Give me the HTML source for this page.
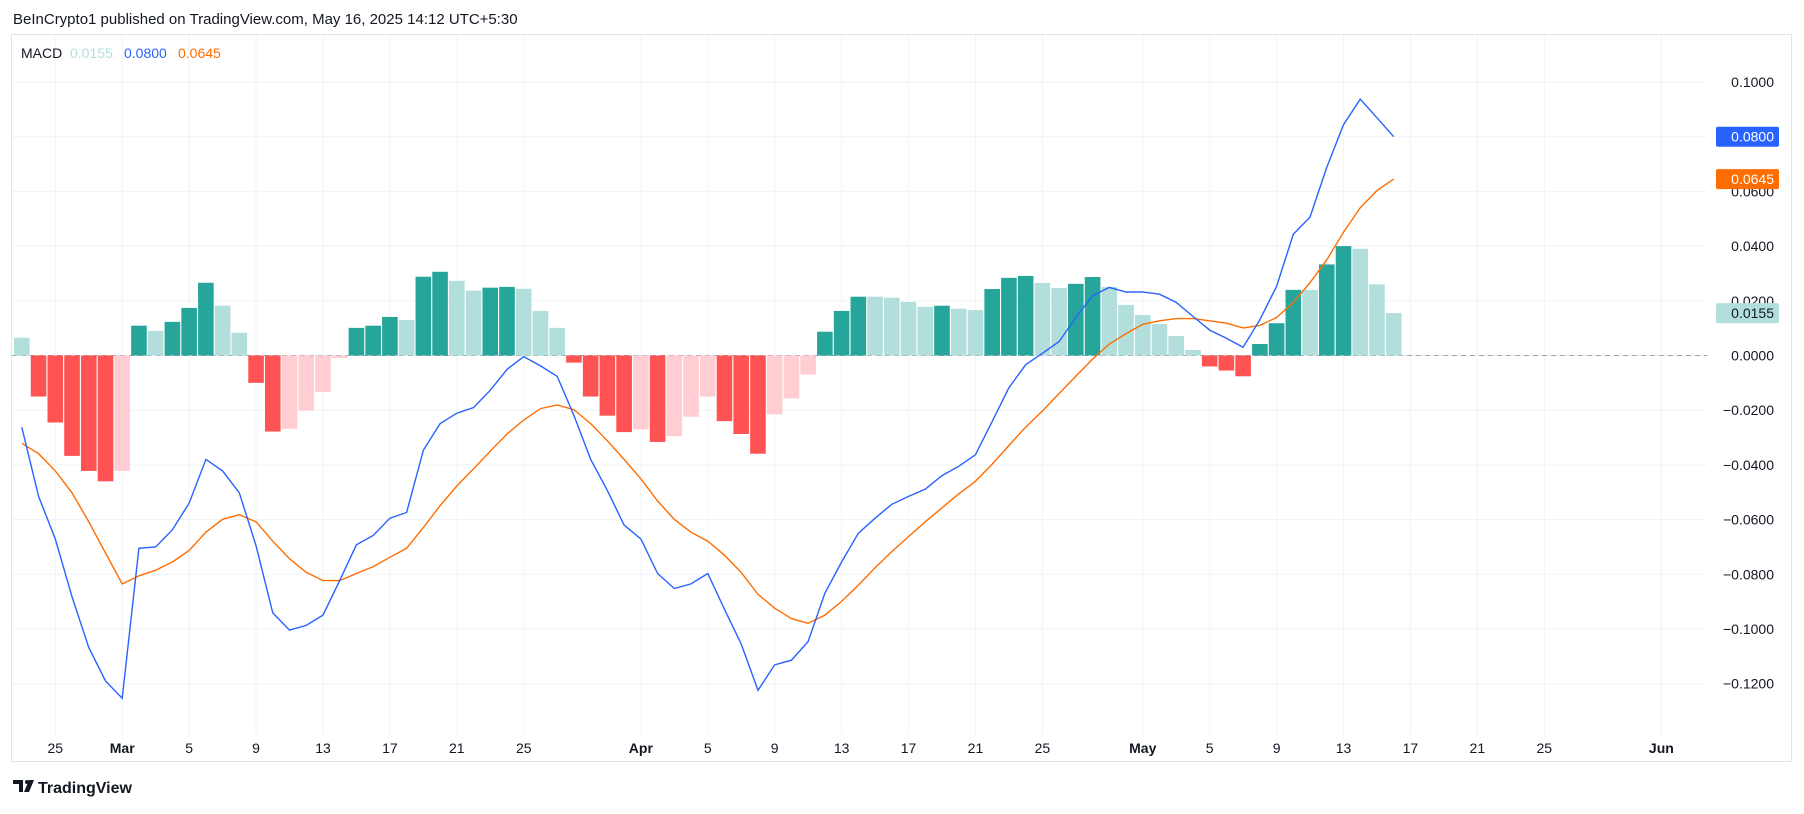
<!DOCTYPE html>
<html><head><meta charset="utf-8"><style>
body{margin:0;background:#fff;font-family:"Liberation Sans",sans-serif;}
svg text{font-family:"Liberation Sans",sans-serif;}
</style></head><body>
<svg id="c" width="1804" height="809" xmlns="http://www.w3.org/2000/svg">
<rect width="1804" height="809" fill="#fff"/>
<text x="13" y="24" font-size="15" fill="#131722">BeInCrypto1 published on TradingView.com, May 16, 2025 14:12 UTC+5:30</text>
<rect x="11.5" y="34.5" width="1780" height="727" fill="none" stroke="#e0e3eb"/>
<g id="grid"></g>
<g id="bars"></g>
<g id="lines"></g>
<g id="axes"></g>
<g>
<text x="21" y="58" font-size="14" fill="#131722">MACD</text>
<text x="70" y="58" font-size="14" fill="#b2dfdb">0.0155</text>
<text x="124" y="58" font-size="14" fill="#2962ff">0.0800</text>
<text x="178" y="58" font-size="14" fill="#ff6d00">0.0645</text>
</g>
<g>
<path d="M13 780h10v12h-4v-8h-6z M24 792l5-12h5l-5 12z" fill="#131722"/>
<circle cx="27" cy="782" r="2" fill="#131722"/>
<text x="38" y="793" font-size="16" font-weight="bold" fill="#131722">TradingView</text>
</g>
</svg>
<script>
const hist=[0.0065,-0.015,-0.0245,-0.0367,-0.0422,-0.046,-0.0422,0.0109,0.009,0.0123,0.0174,0.0266,0.0182,0.0083,-0.010,-0.0278,-0.0268,-0.0202,-0.0133,-0.0009,0.0101,0.0109,0.0141,0.013,0.0288,0.0306,0.0273,0.0237,0.0248,0.0251,0.0244,0.0163,0.0101,-0.0026,-0.015,-0.022,-0.028,-0.027,-0.0316,-0.0295,-0.0224,-0.015,-0.024,-0.0287,-0.0359,-0.0215,-0.0157,-0.007,0.0087,0.0163,0.0215,0.0215,0.0211,0.0196,0.0178,0.0182,0.0171,0.0166,0.0243,0.0284,0.0291,0.0265,0.0247,0.0262,0.0287,0.0251,0.0185,0.0148,0.0115,0.0071,0.002,-0.004,-0.0055,-0.0076,0.0042,0.0118,0.024,0.024,0.0333,0.040,0.039,0.026,0.0155];
const macdY=[370,430,467,517,561,590,605,475,474,459,436,398,408,427,473,531,546,542,533,503,472,464,449,444,390,367,358,353,338,320,309,317,326,360,398,425,455,467,497,510,506,497,528,558,598,576,572,556,514,487,462,449,437,430,424,412,404,394,365,336,316,306,296,275,256,249,253,253,255,262,274,286,293,301,277,248,203,188,145,108,86,102,118.4];
const signalY=[384,393,408,427,452,479,506,499,494,487,477,461,450,446,452,469,484,496,503,503,497,491,483,475,457,438,421,406,391,376,364,354,351,355,367,382,398,415,434,450,461,469,481,496,515,527,536,540,533,521,507,492,478,465,452,440,428,417,402,386,370,356,341,326,311,298,289,281,278,276,276,278,280,284,282,275,262,245,225,201,180,165,155.1];
const macd=macdY.map(y=>+((308-y)/2370).toFixed(4));
const signal=signalY.map(y=>+((308-y)/2370).toFixed(4));
const yTicks=[0.1,0.08,0.06,0.04,0.02,0,-0.02,-0.04,-0.06,-0.08,-0.1,-0.12];
const xTickLabels=["25","Mar","5","9","13","17","21","25","Apr","5","9","13","17","21","25","May","5","9","13","17","21","25","Jun"];
const xTickDays=[0,4,8,12,16,20,24,28,35,39,43,47,51,55,59,65,69,73,77,81,85,89,96];
const firstDay=-2;
const NS="http://www.w3.org/2000/svg";
const X=d=>55.3+d*16.73;
const Y=v=>355.5-v*2735;
function mk(tag,attrs,parent){const e=document.createElementNS(NS,tag);for(const k in attrs)e.setAttribute(k,attrs[k]);parent.appendChild(e);return e;}
const grid=document.getElementById('grid'),bars=document.getElementById('bars'),lines=document.getElementById('lines'),axes=document.getElementById('axes');
yTicks.forEach((t,i)=>{
 const l=mk('line',{x1:12,x2:1707,y1:Y(t),y2:Y(t),stroke:'#f0f3fa','stroke-width':1},grid);
 
 
 const tx=mk('text',{x:1774,y:Y(t)+5,'font-size':14,fill:'#131722','text-anchor':'end'},axes);
 tx.textContent=(t<0?'−':'')+Math.abs(t).toFixed(4);
 
 
});
xTickDays.forEach((d,i)=>{
 const l=mk('line',{x1:X(d),x2:X(d),y1:35,y2:735,stroke:'#f0f3fa','stroke-width':1},grid);
 
 
 const tx=mk('text',{x:X(d),y:753,'font-size':14,fill:'#131722','text-anchor':'middle','font-weight':/[A-Z]/.test(xTickLabels[i])?'bold':'normal'},axes);
 tx.textContent=xTickLabels[i];
 
 
});
const zl=mk('line',{x1:12,x2:1707,y1:Y(0),y2:Y(0),stroke:'#a0a3aa','stroke-dasharray':'5,4'},grid);


hist.forEach((v,i)=>{
 const prev=i>0?hist[i-1]:v+1;
 let col;
 if(v>=0)col=(v>prev)?'#26a69a':'#b2dfdb';else col=(v<prev)?'#ff5252':'#ffcdd2';
 const cx=X(firstDay+i),y0=Y(0),y1=Y(v);
 const r=mk('rect',{x:cx-7.8,width:15.6,y:Math.min(y0,y1),height:Math.max(0.5,Math.abs(y1-y0)),fill:col},bars);
 
 
});
function path(arr,color,name){
 const d=arr.map((v,i)=>(i?'L':'M')+X(firstDay+i).toFixed(1)+','+Y(v).toFixed(1)).join('');
 const p=mk('path',{d:d,fill:'none',stroke:color,'stroke-width':1.4},lines);
 
 
}
path(signal,'#ff6d00','signal-line');
path(macd,'#2962ff','macd-line');
function badge(v,bg,fg,name){
 const y=Y(v);
 const r=mk('rect',{x:1716,y:y-10,width:63,height:20,rx:2,fill:bg},axes);
 
 
 const t=mk('text',{x:1774,y:y+5,'font-size':14,fill:fg,'text-anchor':'end'},axes);
 t.textContent=v.toFixed(4);
 
 
}
badge(hist[hist.length-1],'#b2dfdb','#131722','histogram-price-badge');
badge(signal[signal.length-1],'#ff6d00','#fff','signal-price-badge');
badge(macd[macd.length-1],'#2962ff','#fff','macd-price-badge');
</script>
</body></html>
